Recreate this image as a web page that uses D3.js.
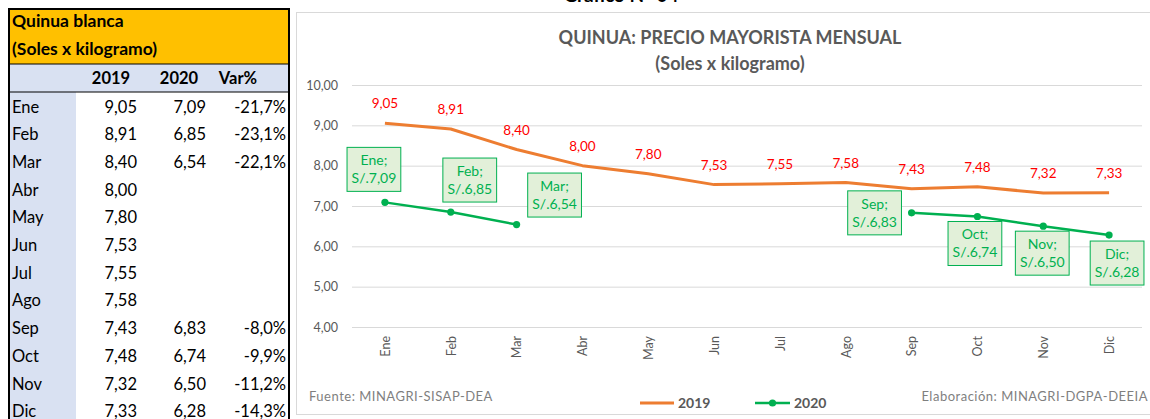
<!DOCTYPE html>
<html lang="es">
<head>
<meta charset="utf-8">
<title>Quinua: precio mayorista mensual</title>
<script src="https://cdn.jsdelivr.net/npm/d3@7/dist/d3.min.js"></script>
<style>
  html, body { margin: 0; padding: 0; background: #fff; }
  svg { display: block; font-family: Lato, "Open Sans", sans-serif; }
</style>
</head>
<body>
<svg id="fig" width="1150" height="419"></svg>
<script>
// Meses y precios mayoristas (S/ por kg)
const months = ["Ene","Feb","Mar","Abr","May","Jun","Jul","Ago","Sep","Oct","Nov","Dic"];
const price2019 = [9.05, 8.91, 8.40, 8.00, 7.80, 7.53, 7.55, 7.58, 7.43, 7.48, 7.32, 7.33];
const price2020 = [7.09, 6.85, 6.54, null, null, null, null, null, 6.83, 6.74, 6.50, 6.28];
const varPct    = [-21.7, -23.1, -22.1, null, null, null, null, null, -8.0, -9.9, -11.2, -14.3];
const yTicks = [4, 5, 6, 7, 8, 9, 10];
const seriesNames = ["2019", "2020"];

// Separadores decimales con coma y guion simple como signo
const es = d3.formatLocale({ decimal: ",", thousands: ".", grouping: [3], currency: ["S/.", ""], minus: "-" });
const f2 = es.format(".2f");
const f1 = es.format(".1f");

const svg = d3.select("#fig");
const ORANGE = "#ED7D31", GREEN = "#00B050", GREY = "#595959";

// ---------- Título superior (recortado por el borde) ----------
svg.append("text").attr("x", 621).attr("y", 2).attr("text-anchor", "middle")
  .attr("font-size", 19).attr("font-weight", 700).attr("fill", "#000")
  .text("Gráfico N° 04");

// ---------- Tabla ----------
const table = svg.append("g");
const T = { x0: 9, x1: 289, top: 9, headEnd: 64, colHeadEnd: 92, bottom: 425 };
const colSplit = 76;
const rowY = i => 106.5 + i * 27.7;

table.append("rect").attr("x", T.x0).attr("y", T.top).attr("width", T.x1 - T.x0)
  .attr("height", T.headEnd - T.top).attr("fill", "#FFC000");
table.append("rect").attr("x", T.x0).attr("y", T.headEnd).attr("width", T.x1 - T.x0)
  .attr("height", T.colHeadEnd - T.headEnd).attr("fill", "#D9E1F2");
table.append("rect").attr("x", T.x0).attr("y", T.colHeadEnd).attr("width", colSplit - T.x0)
  .attr("height", T.bottom - T.colHeadEnd).attr("fill", "#D9E1F2");

[T.headEnd, T.colHeadEnd].forEach(y =>
  table.append("line").attr("x1", T.x0).attr("x2", T.x1).attr("y1", y).attr("y2", y)
    .attr("stroke", "#000").attr("stroke-width", 1));
table.append("path")
  .attr("d", `M${T.x0},${T.bottom}V${T.top}H${T.x1}V${T.bottom}`)
  .attr("fill", "none").attr("stroke", "#000").attr("stroke-width", 2);

table.append("text").attr("x", 12).attr("y", 27).attr("font-size", 17.5).attr("font-weight", 700)
  .attr("fill", "#000").text("Quinua blanca");
table.append("text").attr("x", 12).attr("y", 55).attr("font-size", 17.5).attr("font-weight", 700)
  .attr("fill", "#000").text("(Soles x kilogramo)");

const headCols = [{ t: seriesNames[0], x: 111 }, { t: seriesNames[1], x: 179 }, { t: "Var%", x: 238 }];
headCols.forEach(c => table.append("text").attr("x", c.x).attr("y", 84).attr("text-anchor", "middle")
  .attr("font-size", 16.5).attr("font-weight", 700).attr("fill", "#000").text(c.t));

const rows = table.selectAll("g.row").data(months).join("g").attr("class", "row")
  .attr("font-size", 16.5).attr("fill", "#000");
rows.append("text").attr("x", 12).attr("y", (d, i) => rowY(i) + 6).text(d => d);
rows.append("text").attr("x", 137).attr("y", (d, i) => rowY(i) + 6).attr("text-anchor", "end")
  .text((d, i) => f2(price2019[i]));
rows.append("text").attr("x", 206).attr("y", (d, i) => rowY(i) + 6).attr("text-anchor", "end")
  .text((d, i) => price2020[i] == null ? "" : f2(price2020[i]));
rows.append("text").attr("x", 286).attr("y", (d, i) => rowY(i) + 6).attr("text-anchor", "end")
  .text((d, i) => varPct[i] == null ? "" : f1(varPct[i]) + "%");

// ---------- Gráfico ----------
svg.append("rect").attr("x", 296.5).attr("y", 12.5).attr("width", 860).attr("height", 402)
  .attr("fill", "#fff").attr("stroke", "#D9D9D9").attr("stroke-width", 1);

svg.append("text").attr("x", 730).attr("y", 44).attr("text-anchor", "middle")
  .attr("font-size", 18).attr("font-weight", 700).attr("fill", GREY)
  .text("QUINUA: PRECIO MAYORISTA MENSUAL");
svg.append("text").attr("x", 730).attr("y", 70).attr("text-anchor", "middle")
  .attr("font-size", 18).attr("font-weight", 700).attr("fill", GREY)
  .text("(Soles x kilogramo)");

const plot = { left: 352, right: 1142, top: 85, bottom: 327 };
const x = d3.scalePoint().domain(months).range([plot.left, plot.right]).padding(0.5);
const y = d3.scaleLinear().domain([4, 10]).range([plot.bottom, plot.top]);

// Rejilla horizontal
const yAxis = d3.axisLeft(y).tickValues(yTicks).tickFormat(f2)
  .tickSize(-(plot.right - plot.left)).tickPadding(14);
const gy = svg.append("g").attr("transform", `translate(${plot.left},0)`).call(yAxis);
gy.select(".domain").remove();
gy.selectAll(".tick line").attr("stroke", "#D9D9D9").attr("stroke-width", 1);
gy.selectAll(".tick text").attr("fill", GREY).attr("font-size", 12.5)
  .attr("font-family", "Lato, sans-serif");

// Meses rotados
const xAxis = d3.axisBottom(x).tickSize(0).tickPadding(0);
const gx = svg.append("g").attr("transform", `translate(0,${plot.bottom})`).call(xAxis);
gx.select(".domain").remove();
gx.selectAll(".tick text").attr("fill", GREY).attr("font-size", 12.5)
  .attr("font-family", "Lato, sans-serif")
  .attr("transform", "rotate(-90)").attr("text-anchor", "end")
  .attr("x", -9).attr("y", 0).attr("dy", "0.35em");

// Serie 2019
const line = d3.line().defined(d => d.v != null).x(d => x(d.m)).y(d => y(d.v));
const s19 = months.map((m, i) => ({ m, v: price2019[i] }));
const s20 = months.map((m, i) => ({ m, v: price2020[i] }));

svg.append("path").datum(s19).attr("d", line).attr("fill", "none")
  .attr("stroke", ORANGE).attr("stroke-width", 3).attr("stroke-linejoin", "round");

svg.append("g").selectAll("text").data(s19).join("text")
  .attr("x", d => x(d.m)).attr("y", d => y(d.v) - 15)
  .attr("text-anchor", "middle").attr("font-size", 13.5).attr("fill", "#FF0000")
  .text(d => f2(d.v));

// Serie 2020
svg.append("path").datum(s20).attr("d", line).attr("fill", "none")
  .attr("stroke", GREEN).attr("stroke-width", 2.5).attr("stroke-linejoin", "round");
svg.append("g").selectAll("circle").data(s20.filter(d => d.v != null)).join("circle")
  .attr("cx", d => x(d.m)).attr("cy", d => y(d.v)).attr("r", 3.6).attr("fill", GREEN);

// Etiquetas 2020 en recuadro: desplazamiento del centro respecto al punto
const calloutShift = {
  Ene: [-11, -33], Feb: [19, -32], Mar: [38, -29.5], Sep: [-37, 0],
  Oct: [-2.5, 27], Nov: [-1, 27], Dic: [8, 28]
};
const callouts = svg.append("g").selectAll("g").data(s20.filter(d => d.v != null)).join("g")
  .attr("transform", d => {
    const [dx, dy] = calloutShift[d.m];
    return `translate(${x(d.m) + dx},${y(d.v) + dy})`;
  });
callouts.each(function (d) {
  const g = d3.select(this);
  const bg = g.append("rect");
  const t = g.append("text").attr("text-anchor", "middle").attr("font-size", 14)
    .attr("fill", GREEN);
  t.append("tspan").attr("x", 0).attr("y", -4).text(d.m + ";");
  t.append("tspan").attr("x", 0).attr("y", 14).text("S/." + f2(d.v));
  const w = t.node().getBBox().width + 9;
  bg.attr("x", -w / 2).attr("y", -22).attr("width", w).attr("height", 44)
    .attr("fill", "#E2F0D9").attr("stroke", GREEN).attr("stroke-width", 1);
});

// Leyenda
const legend = svg.append("g").attr("font-size", 14).attr("font-weight", 700).attr("fill", GREY);
legend.append("line").attr("x1", 640).attr("x2", 674).attr("y1", 403).attr("y2", 403)
  .attr("stroke", ORANGE).attr("stroke-width", 3);
legend.append("text").attr("x", 678).attr("y", 408).text(seriesNames[0]);
legend.append("line").attr("x1", 755).attr("x2", 790).attr("y1", 403).attr("y2", 403)
  .attr("stroke", GREEN).attr("stroke-width", 2.5);
legend.append("circle").attr("cx", 772.5).attr("cy", 403).attr("r", 3.6).attr("fill", GREEN);
legend.append("text").attr("x", 794).attr("y", 408).text(seriesNames[1]);

// Fuente y elaboración
svg.append("text").attr("x", 309).attr("y", 401).attr("font-size", 13).attr("fill", "#7F7F7F")
  .attr("letter-spacing", 0.5).text("Fuente: MINAGRI-SISAP-DEA");
svg.append("text").attr("x", 1148).attr("y", 401).attr("font-size", 13).attr("fill", "#7F7F7F")
  .attr("letter-spacing", 0.5).attr("text-anchor", "end").text("Elaboración: MINAGRI-DGPA-DEEIA");
</script>
</body>
</html>
